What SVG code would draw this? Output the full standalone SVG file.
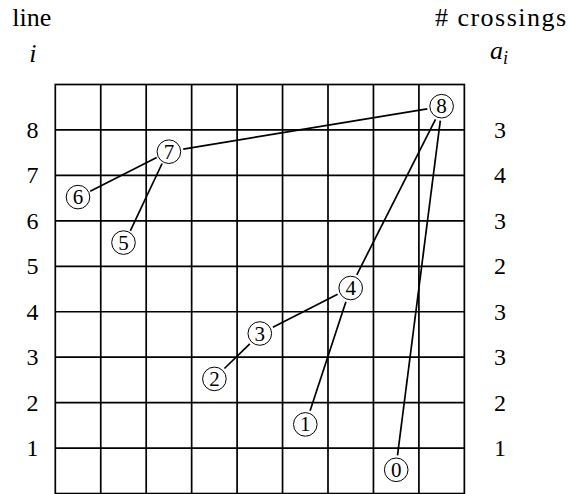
<svg xmlns="http://www.w3.org/2000/svg" width="570" height="494" viewBox="0 0 570 494">
<style>
text{font-family:"Liberation Serif","DejaVu Serif","Noto Serif","Times New Roman",Tinos,FreeSerif,Times,serif;fill:#000}
.hd{font-size:26px}
.num{font-size:24px;text-anchor:middle;dominant-baseline:central}
.it{font-style:italic}
.grid{stroke:#000;stroke-width:1.7;fill:none}
.edge{stroke:#000;stroke-width:1.7;fill:none}
.nc{fill:none;stroke:#000;stroke-width:1}
.nt{font-size:21px;text-anchor:middle;dominant-baseline:central}
</style>
<rect width="570" height="494" fill="#fff"/>
<g id="headers">
<text class="hd" x="12.3" y="26">line</text>
<text class="hd it" x="32.8" y="62" text-anchor="middle">i</text>
<text class="hd" x="435" y="26" textLength="131" lengthAdjust="spacing"># crossings</text>
<text class="hd it" x="490" y="59">a<tspan font-size="18" dy="5">i</tspan></text>
</g>
<g id="grid" class="grid">
<rect x="55.3" y="84.5" width="409.05" height="409.05"/>
<path d="M100.75 84.5V493.55M146.2 84.5V493.55M191.65 84.5V493.55M237.1 84.5V493.55M282.55 84.5V493.55M328 84.5V493.55M373.45 84.5V493.55M418.9 84.5V493.55"/>
<path d="M55.3 129.95H464.35M55.3 175.4H464.35M55.3 220.85H464.35M55.3 266.3H464.35M55.3 311.75H464.35M55.3 357.2H464.35M55.3 402.65H464.35M55.3 448.1H464.35"/>
</g>
<g id="row-labels">
<text class="num" x="32.5" y="129.95">8</text>
<text class="num" x="32.5" y="175.4">7</text>
<text class="num" x="32.5" y="220.85">6</text>
<text class="num" x="32.5" y="266.3">5</text>
<text class="num" x="32.5" y="311.75">4</text>
<text class="num" x="32.5" y="357.2">3</text>
<text class="num" x="32.5" y="402.65">2</text>
<text class="num" x="32.5" y="448.1">1</text>
</g>
<g id="crossing-counts">
<text class="num" x="500" y="129.95">3</text>
<text class="num" x="500" y="175.4">4</text>
<text class="num" x="500" y="220.85">3</text>
<text class="num" x="500" y="266.3">2</text>
<text class="num" x="500" y="311.75">3</text>
<text class="num" x="500" y="357.2">3</text>
<text class="num" x="500" y="402.65">2</text>
<text class="num" x="500" y="448.1">1</text>
</g>
<g id="connectors" class="edge">
<line x1="427.3" y1="108.8" x2="183.2" y2="149.1"/>
<line x1="156.7" y1="157.5" x2="90.2" y2="191.3"/>
<line x1="162.1" y1="163.5" x2="130.3" y2="230.8"/>
<line x1="435.5" y1="119.4" x2="356.8" y2="274.8"/>
<line x1="440.3" y1="120.7" x2="397.5" y2="455.3"/>
<line x1="337.6" y1="294.3" x2="272.9" y2="327.2"/>
<line x1="345.9" y1="301.7" x2="310.1" y2="410.7"/>
<line x1="249.8" y1="343.9" x2="224.4" y2="368.5"/>
</g>
<g id="n8"><circle class="nc" cx="441.6" cy="106.2" r="11.8"/><text class="nt" x="441.6" y="106.2">8</text></g>
<g id="n7"><circle class="nc" cx="168.9" cy="151.7" r="11.8"/><text class="nt" x="168.9" y="151.7">7</text></g>
<g id="n6"><circle class="nc" cx="78" cy="197.1" r="11.8"/><text class="nt" x="78" y="197.1">6</text></g>
<g id="n5"><circle class="nc" cx="123.5" cy="242.6" r="11.8"/><text class="nt" x="123.5" y="242.6">5</text></g>
<g id="n4"><circle class="nc" cx="350.7" cy="288" r="11.8"/><text class="nt" x="350.7" y="288">4</text></g>
<g id="n3"><circle class="nc" cx="259.8" cy="333.5" r="11.8"/><text class="nt" x="259.8" y="333.5">3</text></g>
<g id="n2"><circle class="nc" cx="214.4" cy="378.9" r="11.8"/><text class="nt" x="214.4" y="378.9">2</text></g>
<g id="n1"><circle class="nc" cx="305.3" cy="424.4" r="11.8"/><text class="nt" x="305.3" y="424.4">1</text></g>
<g id="n0"><circle class="nc" cx="396.2" cy="469.8" r="11.8"/><text class="nt" x="396.2" y="469.8">0</text></g>
</svg>
